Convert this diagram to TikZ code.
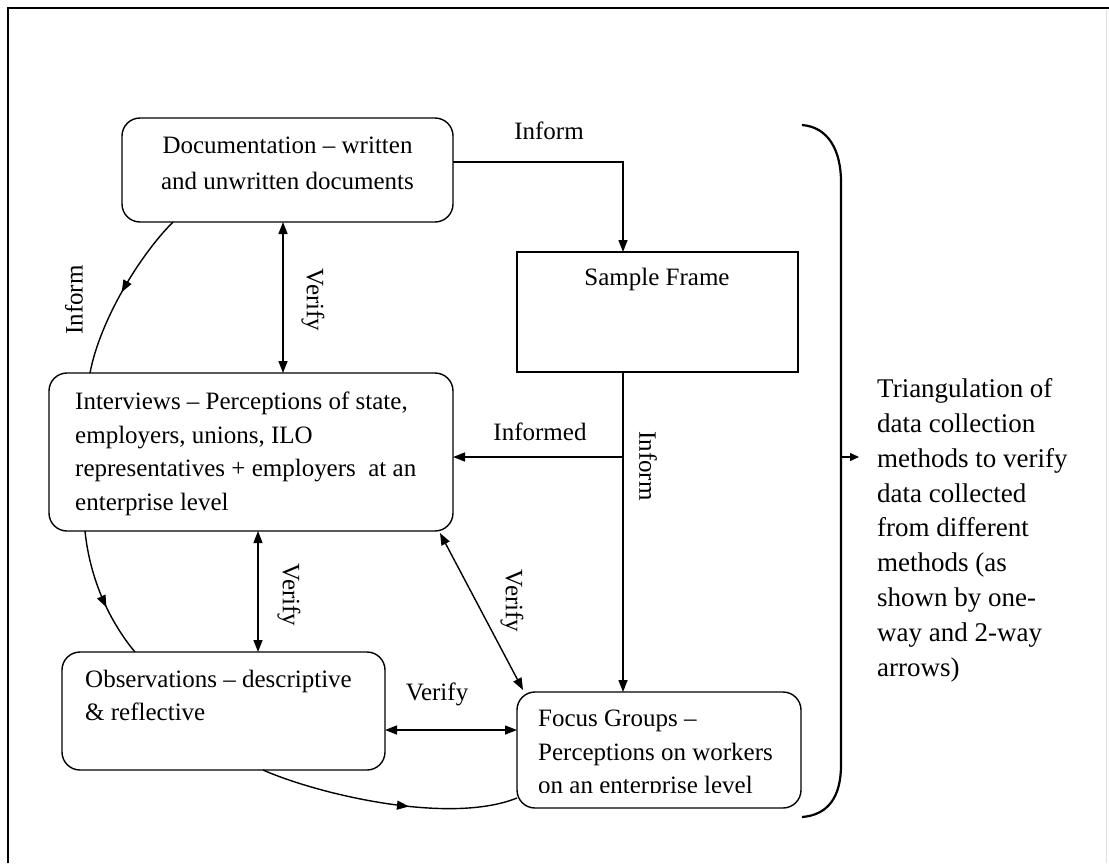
\documentclass[tikz,border=0pt]{standalone}
\usepackage{fontspec}
\setmainfont{Liberation Serif}
\usetikzlibrary{arrows.meta,calc,decorations.markings}
\begin{document}
\begin{tikzpicture}[x=1pt,y=-1pt,
  box/.style={draw, line width=1.4pt, rounded corners=18pt, inner sep=0pt, outer sep=0pt},
  plainbox/.style={draw, line width=1.4pt, inner sep=0pt, outer sep=0pt},
  txt/.style={inner sep=0pt, align=left, font=\fontsize{25}{33.4}\selectfont},
  lbl/.style={inner sep=0pt, font=\fontsize{25}{30}\selectfont},
  conn/.style={line width=1.4pt},
  onearrow/.style={conn, -{Triangle[length=12pt,width=9pt]}},
  twoarrow/.style={conn, {Triangle[length=12pt,width=9pt]}-{Triangle[length=12pt,width=9pt]}},
  midarrow/.style={conn, postaction={decorate}, decoration={markings,
      mark=at position #1 with {\arrow{Triangle[length=12pt,width=9pt]}}}},
]
\useasboundingbox (0,0) rectangle (1109,863);

% page frame
\draw[line width=2pt] (8,863) -- (8,8) -- (1109,8);
\draw[gray!25, line width=1pt] (1106,10) -- (1106,863);

% boxes
\node[box, minimum width=331pt, minimum height=104pt] (doc) at (287.5,170) {};
\node[plainbox, minimum width=281pt, minimum height=120pt] (sample) at (657.5,312) {};
\node[box, minimum width=404pt, minimum height=158pt] (intv) at (251,452) {};
\node[box, minimum width=323pt, minimum height=118pt] (obs) at (223.5,711) {};
\node[box, minimum width=284pt, minimum height=116pt] (fg) at (659,750) {};

% box texts
\node[txt, align=center, anchor=north, font=\fontsize{25}{36}\selectfont] (doctext) at (287.5,137)
  {Documentation – written\\and unwritten documents};
\node[txt, anchor=base] (sampletext) at (657,285) {Sample Frame};
\node[txt, anchor=north west] (intvtext) at (75,392)
  {Interviews – Perceptions of state,\\employers, unions, ILO\\representatives + employers\ \ at an\\enterprise level};
\node[txt, anchor=north west] (obstext) at (85,670)
  {Observations – descriptive\\\& reflective};
% the last line of this text box overflows and is cut off at its lower edge
\begin{scope}
  \clip (520,695) rectangle (798,792);
  \node[txt, anchor=north west] (fgtext) at (538,710)
    {Focus Groups –\\Perceptions on workers\\on an enterprise level};
\end{scope}

% side note
\node[txt, anchor=north west, font=\fontsize{27}{34.8}\selectfont] (tri) at (877,378.5)
  {Triangulation of\\data collection\\methods to verify\\data collected\\from different\\methods (as\\shown by one-\\way and 2-way\\arrows)};

% key points on the boxes
\coordinate (sdown) at ($(sample.south west)+(106,0)$);
\coordinate (sup) at ($(sample.north west)+(106,0)$);
\coordinate (inf) at ($(intv.east)+(0,5)$);

% straight connectors
\draw[onearrow] ($(doc.east)+(0,-8)$) -| (sup);
\draw[onearrow] (sdown) -- (sdown |- fg.north);
\draw[onearrow] (sdown |- inf) -- (inf);
\draw[twoarrow] ($(doc.south west)+(161,0)$) -- ($(intv.north west)+(234,0)$);
\draw[twoarrow] ($(intv.south west)+(209,0)$) -- ($(obs.north west)+(196,0)$);
\draw[twoarrow] ($(intv.south east)+(-13,2)$) -- ($(fg.north west)+(6,-2)$);
\draw[twoarrow] ($(obs.east)+(0,19)$) -- ($(fg.west)+(0,-20)$);

% curved connectors
\draw[midarrow=0.5] ($(doc.south west)+(51,0)$) .. controls (140,255) and (100,320) .. ($(intv.north west)+(41,0)$);
\draw[midarrow=0.6] ($(intv.south west)+(36,0)$) .. controls (90,580) and (110,622) .. ($(obs.north west)+(73,0)$);
\draw[midarrow=0.58] ($(obs.south west)+(201,0)$) .. controls (320,795) and (450,825) .. ($(fg.south west)+(0,-10)$);

% connector labels
\node[lbl, anchor=base] (l1) at (549,139) {Inform};
\node[lbl, anchor=base] (l2) at (540,440) {Informed};
\node[lbl, anchor=base] (l3) at (437,700) {Verify};
\node[lbl, rotate=-90] (l4) at (313,300) {Verify};
\node[lbl, rotate=-90] (l5) at (289,595) {Verify};
\node[lbl, rotate=-90] (l6) at (512,601) {Verify};
\node[lbl, rotate=90] (l7) at (74,300) {Inform};
\node[lbl, rotate=-90] (l8) at (648,466) {Inform};

% bracket grouping the methods
\draw[line width=2.2pt] (802,125) .. controls (828,127) and (841,150) .. (841,182)
  -- (841,765) .. controls (841,797) and (828,815) .. (802,817);
\coordinate (bmid) at (841,457);
\draw[conn, -{Triangle[length=9pt,width=8pt]}] (bmid) -- ($(tri.west |- bmid)+(-18,0)$);
\end{tikzpicture}
\end{document}
